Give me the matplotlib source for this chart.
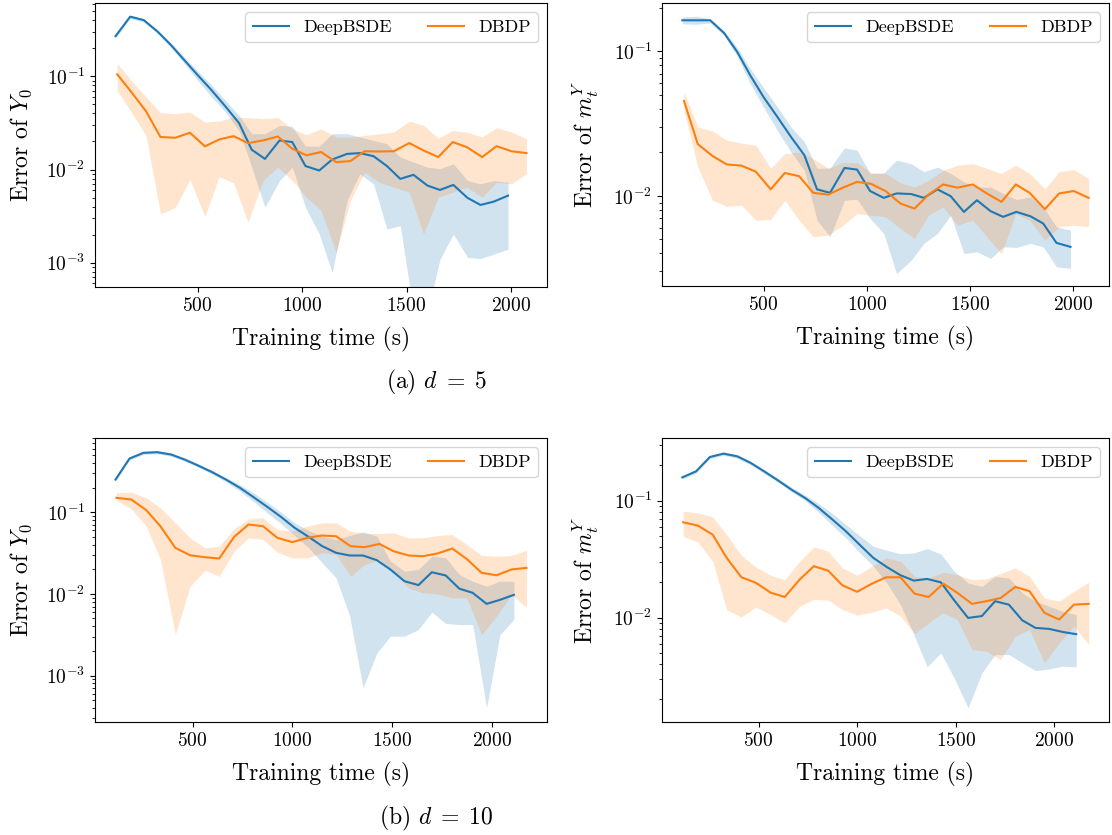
import numpy as np
import matplotlib
matplotlib.use("Agg")
from matplotlib import pyplot as plt

plt.rcParams['font.family'] = 'serif'
plt.rcParams['font.serif'] = ['cmr10']
plt.rcParams['mathtext.fontset'] = 'cm'
plt.rcParams['axes.formatter.use_mathtext'] = True

# training times (s)
t5_deep = [107, 177, 242, 309, 373, 436, 500, 567, 633, 698, 759, 822, 892, 953, 1016,
           1082, 1144, 1215, 1276, 1342, 1406, 1470, 1533, 1600, 1660, 1724, 1792, 1854, 1918, 1986]
t5_dbdp = [115, 182, 253, 322, 393, 463, 535, 603, 672, 741, 813, 884, 953, 1021, 1091,
           1163, 1231, 1299, 1369, 1439, 1513, 1581, 1652, 1721, 1788, 1862, 1931, 2002, 2074]
t10_deep = [113, 183, 253, 322, 392, 460, 528, 598, 667, 737, 805, 875, 943, 1012, 1082,
            1150, 1220, 1288, 1355, 1425, 1492, 1563, 1633, 1700, 1770, 1838, 1905, 1975, 2042, 2112]
t10_dbdp = [117, 192, 267, 338, 413, 487, 562, 633, 708, 780, 853, 925, 1000, 1075, 1147,
            1220, 1292, 1363, 1437, 1508, 1583, 1655, 1728, 1803, 1875, 1950, 2025, 2100, 2175]

# d = 5, error of Y0
y0_5_deep = [0.269, 0.435, 0.400, 0.300, 0.215, 0.149, 0.103, 0.0707, 0.0475, 0.0315, 0.0163, 0.0130,
             0.0205, 0.0197, 0.0109, 0.00976, 0.0128, 0.0147, 0.0150, 0.0139, 0.0109, 0.00794, 0.00877,
             0.00673, 0.00604, 0.00684, 0.00496, 0.00417, 0.00453, 0.00525]
y0_5_deep_hi = [0.288, 0.453, 0.413, 0.313, 0.228, 0.161, 0.114, 0.080, 0.0552, 0.0381, 0.0242, 0.0242,
                0.0297, 0.0290, 0.0178, 0.0178, 0.0242, 0.0242, 0.0223, 0.0205, 0.0189, 0.0136, 0.0120,
                0.0106, 0.0102, 0.0115, 0.00762, 0.00702, 0.00762, 0.00731]
y0_5_deep_lo = [0.256, 0.417, 0.381, 0.288, 0.203, 0.137, 0.0906, 0.060, 0.0413, 0.0262, 0.0106, 0.00394,
                0.00762, 0.0106, 0.00394, 0.00203, 0.000787, 0.00465, 0.00897, 0.00702, 0.00230, 0.00250,
                0.0003, 0.0003, 0.00109, 0.00203, 0.00114, 0.00111, 0.00124, 0.00140]
y0_5_dbdp = [0.105, 0.0680, 0.0421, 0.0223, 0.0219, 0.0248, 0.0177, 0.0210, 0.0228, 0.0192, 0.0205,
             0.0226, 0.0167, 0.0142, 0.0154, 0.0120, 0.0123, 0.0157, 0.0156, 0.0157, 0.0192, 0.0160,
             0.0136, 0.0197, 0.0174, 0.0136, 0.0178, 0.0157, 0.0150]
y0_5_dbdp_hi = [0.137, 0.0906, 0.0600, 0.0407, 0.0397, 0.0413, 0.0323, 0.0331, 0.0366, 0.0360, 0.0351,
                0.0360, 0.0273, 0.0236, 0.0273, 0.0223, 0.0223, 0.0232, 0.0242, 0.0252, 0.0331, 0.0297,
                0.0217, 0.0262, 0.0252, 0.0223, 0.0281, 0.0252, 0.0214]
y0_5_dbdp_lo = [0.0707, 0.0413, 0.0232, 0.00334, 0.00394, 0.00780, 0.00313, 0.00841, 0.00719, 0.00272,
                0.00762, 0.0106, 0.00762, 0.00505, 0.00362, 0.00129, 0.00465, 0.00935, 0.00731, 0.00646,
                0.00570, 0.00203, 0.00505, 0.00570, 0.00646, 0.00505, 0.00731, 0.00702, 0.00897]

# d = 5, error of m_t^Y
m_5_deep = [0.164, 0.164, 0.164, 0.134, 0.0990, 0.0682, 0.0483, 0.0352, 0.0256, 0.0191, 0.0111, 0.0105,
            0.0156, 0.0152, 0.0108, 0.00969, 0.0104, 0.0103, 0.00969, 0.0111, 0.00995, 0.00775, 0.00933,
            0.00783, 0.00716, 0.00775, 0.00723, 0.00644, 0.00473, 0.00444]
m_5_deep_hi = [0.173, 0.175, 0.168, 0.138, 0.106, 0.0759, 0.0561, 0.0412, 0.0300, 0.0236, 0.0155, 0.0156,
               0.0215, 0.0207, 0.0143, 0.0144, 0.0177, 0.0167, 0.0147, 0.0158, 0.0143, 0.0125, 0.0115,
               0.0115, 0.0104, 0.00944, 0.00984, 0.00839, 0.00611, 0.00579]
m_5_deep_lo = [0.155, 0.154, 0.157, 0.129, 0.0923, 0.0597, 0.0412, 0.0284, 0.0201, 0.0150, 0.00679, 0.00521,
               0.00933, 0.00948, 0.00697, 0.00550, 0.00290, 0.00359, 0.00469, 0.00550, 0.00735, 0.00399,
               0.00410, 0.00369, 0.00444, 0.00440, 0.00469, 0.00444, 0.00323, 0.00315]
m_5_dbdp = [0.0454, 0.0228, 0.0189, 0.0165, 0.0162, 0.0147, 0.0111, 0.0144, 0.0137, 0.0105, 0.0102,
            0.0114, 0.0125, 0.0121, 0.0108, 0.00885, 0.00817, 0.0102, 0.0120, 0.0114, 0.0120, 0.0104,
            0.00909, 0.0120, 0.0105, 0.00809, 0.0104, 0.0108, 0.00969]
m_5_dbdp_hi = [0.0524, 0.0300, 0.0281, 0.0243, 0.0232, 0.0224, 0.0155, 0.0196, 0.0201, 0.0181, 0.0155,
               0.0170, 0.0170, 0.0144, 0.0143, 0.0123, 0.0115, 0.0128, 0.0150, 0.0163, 0.0167, 0.0155,
               0.0143, 0.0163, 0.0143, 0.0112, 0.0147, 0.0152, 0.0132]
m_5_dbdp_lo = [0.0391, 0.0158, 0.00933, 0.00849, 0.00861, 0.00679, 0.00686, 0.00933, 0.00679, 0.00521,
               0.00535, 0.00627, 0.00755, 0.00735, 0.00716, 0.00594, 0.00507, 0.00735, 0.00839, 0.00627,
               0.00679, 0.00521, 0.00399, 0.00755, 0.00679, 0.00494, 0.00611, 0.00627, 0.00611]

# d = 10, error of Y0
y0_10_deep = [0.251, 0.454, 0.533, 0.543, 0.508, 0.441, 0.372, 0.309, 0.251, 0.199, 0.153, 0.116, 0.0877,
              0.0643, 0.0499, 0.0384, 0.0318, 0.0295, 0.0295, 0.0258, 0.0199, 0.0143, 0.0128, 0.0184,
              0.0168, 0.0116, 0.0103, 0.00755, 0.00845, 0.00973]
y0_10_deep_hi = [0.268, 0.476, 0.558, 0.569, 0.533, 0.462, 0.391, 0.327, 0.265, 0.218, 0.173, 0.132, 0.100,
                 0.0740, 0.0597, 0.0508, 0.0463, 0.0518, 0.0574, 0.0508, 0.0251, 0.0190, 0.0199, 0.0289,
                 0.0276, 0.0173, 0.0143, 0.0124, 0.0143, 0.0143]
y0_10_deep_lo = [0.240, 0.434, 0.508, 0.518, 0.485, 0.421, 0.356, 0.292, 0.235, 0.181, 0.135, 0.0982,
                 0.0726, 0.0518, 0.0366, 0.0240, 0.0157, 0.00533, 0.000706, 0.00190, 0.00303, 0.00303,
                 0.00366, 0.00597, 0.00434, 0.00421, 0.00421, 0.000402, 0.00318, 0.00485]
y0_10_dbdp = [0.150, 0.143, 0.106, 0.0674, 0.0366, 0.0297, 0.0281, 0.0271, 0.0499, 0.0706, 0.0674, 0.0485,
              0.0430, 0.0485, 0.0518, 0.0508, 0.0384, 0.0373, 0.0409, 0.0333, 0.0295, 0.0289, 0.0312,
              0.0359, 0.0268, 0.0181, 0.0169, 0.0199, 0.0208]
y0_10_dbdp_hi = [0.173, 0.176, 0.150, 0.113, 0.0740, 0.0485, 0.0366, 0.0384, 0.0625, 0.0828, 0.0853,
                 0.0614, 0.0585, 0.0674, 0.0740, 0.0740, 0.0585, 0.0548, 0.0548, 0.0558, 0.0485, 0.0485,
                 0.0518, 0.0533, 0.0402, 0.0295, 0.0289, 0.0295, 0.0343]
y0_10_dbdp_lo = [0.140, 0.110, 0.0674, 0.0263, 0.00318, 0.0124, 0.0195, 0.0164, 0.0333, 0.0485, 0.0463,
                 0.0324, 0.0276, 0.0276, 0.0318, 0.0303, 0.0164, 0.0229, 0.0263, 0.0190, 0.0118, 0.0103,
                 0.0100, 0.00893, 0.00893, 0.00318, 0.00533, 0.00982, 0.00687]

# d = 10, error of m_t^Y
m_10_deep = [0.158, 0.178, 0.236, 0.252, 0.239, 0.210, 0.178, 0.149, 0.124, 0.105, 0.0866, 0.0688, 0.0547,
             0.0421, 0.0324, 0.0271, 0.0230, 0.0207, 0.0214, 0.0200, 0.0141, 0.00993, 0.0103, 0.0138,
             0.0129, 0.00948, 0.00816, 0.00800, 0.00754, 0.00721]
m_10_deep_hi = [0.164, 0.184, 0.244, 0.261, 0.247, 0.217, 0.184, 0.155, 0.130, 0.111, 0.0942, 0.0774,
                0.0624, 0.0502, 0.0407, 0.0376, 0.0352, 0.0357, 0.0389, 0.0350, 0.0249, 0.0198, 0.0185,
                0.0225, 0.0218, 0.0163, 0.0138, 0.0125, 0.0113, 0.0106]
m_10_deep_lo = [0.153, 0.172, 0.229, 0.244, 0.230, 0.202, 0.171, 0.144, 0.119, 0.100, 0.0795, 0.0611,
                0.0480, 0.0361, 0.0275, 0.0198, 0.0129, 0.00716, 0.00379, 0.00499, 0.00305, 0.00169,
                0.00337, 0.00483, 0.00483, 0.00410, 0.00352, 0.00364, 0.00384, 0.00379]
m_10_dbdp = [0.0653, 0.0611, 0.0512, 0.0324, 0.0221, 0.0198, 0.0163, 0.0150, 0.0211, 0.0275, 0.0252,
             0.0189, 0.0166, 0.0195, 0.0221, 0.0221, 0.0160, 0.0150, 0.0195, 0.0163, 0.0131, 0.0138,
             0.0147, 0.0183, 0.0168, 0.0110, 0.00962, 0.0129, 0.0131]
m_10_dbdp_hi = [0.0811, 0.0785, 0.0725, 0.0512, 0.0339, 0.0271, 0.0229, 0.0211, 0.0303, 0.0402, 0.0369,
                0.0266, 0.0230, 0.0275, 0.0324, 0.0303, 0.0225, 0.0218, 0.0244, 0.0233, 0.0211, 0.0214,
                0.0238, 0.0266, 0.0225, 0.0147, 0.0138, 0.0168, 0.0200]
m_10_dbdp_lo = [0.0495, 0.0441, 0.0303, 0.0117, 0.0101, 0.0123, 0.0106, 0.00900, 0.0125, 0.0143, 0.0141,
                0.0117, 0.0105, 0.0111, 0.0121, 0.0103, 0.00730, 0.00900, 0.0110, 0.00962, 0.00532,
                0.00515, 0.00437, 0.00692, 0.00789, 0.00410, 0.00607, 0.00843, 0.00588]

W, H = 1112, 835


def make_axes(fig, left, top, right, bottom):
    return fig.add_axes([left / W, 1 - bottom / H, (right - left) / W, (bottom - top) / H])


def panel(ax, t_deep, deep, deep_lo, deep_hi, t_dbdp, dbdp, dbdp_lo, dbdp_hi, ylabel, ylim):
    ax.plot(t_deep, deep, color='C0', lw=1.5, label='DeepBSDE')
    ax.fill_between(t_deep, deep_lo, deep_hi, color='C0', alpha=0.2, lw=0)
    ax.plot(t_dbdp, dbdp, color='C1', lw=1.5, label='DBDP')
    ax.fill_between(t_dbdp, dbdp_lo, dbdp_hi, color='C1', alpha=0.2, lw=0)
    ax.set_yscale('log')
    ax.set_ylim(*ylim)
    ax.set_xticks([500, 1000, 1500, 2000])
    ax.tick_params(labelsize=14)
    ax.set_xlabel('Training time (s)', fontsize=17, labelpad=9)
    ax.set_ylabel(ylabel, fontsize=17, labelpad=9)
    ax.legend(loc='upper right', ncol=2, fontsize=13)


fig = plt.figure(figsize=(W / 100, H / 100), dpi=100)

ax1 = make_axes(fig, 95, 3, 547, 287)
panel(ax1, t5_deep, y0_5_deep, y0_5_deep_lo, y0_5_deep_hi,
      t5_dbdp, y0_5_dbdp, y0_5_dbdp_lo, y0_5_dbdp_hi, 'Error of $Y_0$', (5.5e-4, 0.61))

ax2 = make_axes(fig, 662, 3, 1109, 286)
panel(ax2, t5_deep, m_5_deep, m_5_deep_lo, m_5_deep_hi,
      t5_dbdp, m_5_dbdp, m_5_dbdp_lo, m_5_dbdp_hi, 'Error of $m_t^Y$', (0.00238, 0.216))

ax3 = make_axes(fig, 95, 438, 547, 722)
panel(ax3, t10_deep, y0_10_deep, y0_10_deep_lo, y0_10_deep_hi,
      t10_dbdp, y0_10_dbdp, y0_10_dbdp_lo, y0_10_dbdp_hi, 'Error of $Y_0$', (2.7e-4, 0.81))

ax4 = make_axes(fig, 662, 438, 1109, 722)
panel(ax4, t10_deep, m_10_deep, m_10_deep_lo, m_10_deep_hi,
      t10_dbdp, m_10_dbdp, m_10_dbdp_lo, m_10_dbdp_hi, 'Error of $m_t^Y$', (0.00128, 0.343))

fig.text(436 / W, 1 - 382 / H, r'(a) $d\;=\;5$', ha='center', va='center', fontsize=17)
fig.text(436 / W, 1 - 818 / H, r'(b) $d\;=\;10$', ha='center', va='center', fontsize=17)

fig.savefig('out.png', dpi=100)
